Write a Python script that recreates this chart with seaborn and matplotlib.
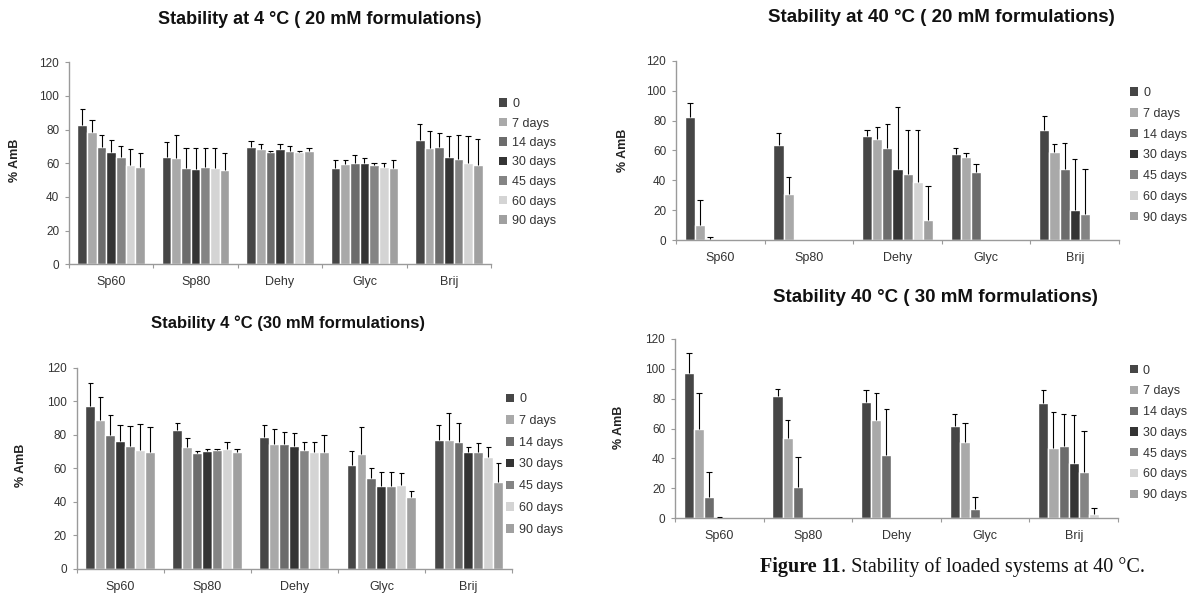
import numpy as np
import pandas as pd
import matplotlib
matplotlib.use("Agg")
import matplotlib.pyplot as plt
from matplotlib.patches import Patch
import seaborn as sns

# formulations and sampling times
forms = ["Sp60", "Sp80", "Dehy", "Glyc", "Brij"]
times = ["0", "7 days", "14 days", "30 days", "45 days", "60 days", "90 days"]
greys = ["#464646", "#a9a9a9", "#6c6c6c", "#343434", "#848484", "#d4d4d4", "#a0a0a0"]

# % AmB, one row per formulation, one column per time
t4_20 = [[83, 78.5, 69.5, 66.5, 63.5, 59, 58],
         [63.5, 63, 57, 56.5, 58, 57, 56],
         [69.5, 68.5, 67, 68.5, 67.5, 66.5, 67.5],
         [57.5, 59.5, 60, 60, 59, 58, 57.5],
         [74, 69, 69.5, 63.5, 62.5, 60, 59]]
t4_20_sd = [[9, 7.5, 7.5, 7.5, 6.5, 9.5, 8],
            [9, 14, 12, 12.5, 11, 12, 10],
            [3.5, 3, 0.5, 3, 2.5, 1, 1.5],
            [4.5, 2.5, 5, 3, 1, 2, 4.5],
            [9.5, 10, 8.5, 13, 14.5, 16, 15.5]]

t4_30 = [[97, 89, 80, 76.5, 73.5, 71, 70],
         [83, 73, 69, 70.5, 71, 71.5, 69.5],
         [79, 74.5, 74.5, 73.5, 71, 70, 70],
         [62, 68.5, 54, 49.5, 49.5, 50, 43],
         [77, 77, 75.5, 70, 70, 66.5, 52]]
t4_30_sd = [[14, 13.5, 12, 9.5, 12, 15.5, 15],
            [4, 5, 1.5, 1, 0.5, 4.5, 2],
            [7, 9, 7.5, 7.5, 5, 5.5, 10],
            [8.5, 16.5, 6, 8.5, 8.5, 7.5, 3.5],
            [9, 16, 11.5, 3, 5, 6.5, 11]]

t40_20 = [[82.5, 10, 1, 0, 0, 0, 0],
          [64, 31, 0, 0, 0, 0, 0],
          [70, 67.5, 62, 47.5, 44.5, 39, 13.5],
          [57.5, 55.5, 45.5, 0, 0, 0, 0],
          [73.5, 59, 47.5, 20, 17.5, 0, 0]]
t40_20_sd = [[9.5, 17, 1.5, 0, 0, 0, 0],
             [8, 11.5, 0, 0, 0, 0, 0],
             [3.5, 8.5, 16, 41.5, 29.5, 34.5, 23],
             [4.5, 3, 5.5, 0, 0, 0, 0],
             [9.5, 5.5, 17.5, 34.5, 30, 0, 0]]

t40_30 = [[97, 60, 14.5, 0.3, 0, 0, 0],
          [82, 53.5, 21, 0, 0, 0, 0],
          [78, 66, 42, 0, 0, 0, 0],
          [61.5, 51, 6, 0, 0, 0, 0],
          [77, 47, 48, 37, 31, 3, 0]]
t40_30_sd = [[13.5, 24, 16.5, 0.7, 0, 0, 0],
             [4.5, 12.5, 20, 0, 0, 0, 0],
             [8, 18, 31, 0, 0, 0, 0],
             [8.5, 13, 8, 0, 0, 0, 0],
             [9, 24, 22, 32, 27, 4, 0]]

sns.set_style("white")
plt.rcParams["font.family"] = ["Liberation Sans", "DejaVu Sans"]

W, H = 1194, 594
fig = plt.figure(figsize=(W / 100, H / 100), dpi=100)


def px_axes(x0, y0, x1, y1):
    return fig.add_axes([x0 / W, 1 - y1 / H, (x1 - x0) / W, (y1 - y0) / H])


def panel(box, vals, sds, title, title_xy, title_size, ylab_xy, leg_xy, leg_space):
    ax = px_axes(*box)
    df = pd.DataFrame([(f, t, vals[i][j]) for i, f in enumerate(forms)
                       for j, t in enumerate(times)], columns=["form", "time", "amb"])
    sns.barplot(data=df, x="form", y="amb", hue="time", order=forms, hue_order=times,
                palette=greys, saturation=1, errorbar=None, width=0.8, legend=False, ax=ax)
    # upper error bars only, taken from the drawn bars
    bars = sorted(ax.patches, key=lambda p: p.get_x())
    for k, p in enumerate(bars):
        e = sds[k // 7][k % 7]
        if e <= 0:
            continue
        xc = p.get_x() + p.get_width() / 2
        top = p.get_height() + e
        cw = p.get_width() * 0.27
        ax.vlines(xc, p.get_height(), top, color="black", lw=0.8, zorder=3)
        ax.hlines(top, xc - cw, xc + cw, color="black", lw=0.8, zorder=3)

    ax.set_ylim(0, 120)
    ax.set_xlim(-0.5, 4.5)
    ax.set_yticks(np.arange(0, 121, 20))
    ax.set_xticks(np.arange(-0.5, 5, 1), minor=True)
    ax.set_xlabel("")
    ax.set_ylabel("")
    sns.despine(ax=ax)
    for s in ["left", "bottom"]:
        ax.spines[s].set_color("#9a9a9a")
        ax.spines[s].set_linewidth(1.0)
    ax.tick_params(axis="y", left=True, length=3, width=0.8, color="#9a9a9a",
                   labelsize=8.5, labelcolor="#333333", pad=4)
    ax.tick_params(axis="x", which="major", bottom=True, length=0,
                   labelsize=9, labelcolor="#333333", pad=8.5)
    ax.tick_params(axis="x", which="minor", bottom=True, length=3, width=0.8, color="#9a9a9a")

    fig.text(title_xy[0] / W, 1 - title_xy[1] / H, title, ha="center", va="center",
             fontsize=title_size, fontweight="bold", color="#111111")
    fig.text(ylab_xy[0] / W, 1 - ylab_xy[1] / H, "% AmB", ha="center", va="center",
             rotation=90, fontsize=9, fontweight="bold", color="#222222")

    handles = [Patch(facecolor=c, edgecolor="none", label=t) for c, t in zip(greys, times)]
    ax.legend(handles=handles, loc="center left",
              bbox_to_anchor=(leg_xy[0] / W, 1 - leg_xy[1] / H),
              bbox_transform=fig.transFigure, frameon=False, fontsize=9,
              handlelength=0.65, handleheight=0.65, handletextpad=0.4,
              labelspacing=leg_space, borderpad=0, borderaxespad=0,
              labelcolor="#333333")
    return ax


panel((69, 62.3, 491, 264.3), t4_20, t4_20_sd,
      "Stability at 4 °C ( 20 mM formulations)", (320, 20), 13,
      (15, 160), (499, 162.5), 0.6)
panel((76.6, 368, 512, 568.7), t4_30, t4_30_sd,
      "Stability 4 °C (30 mM formulations)", (288, 323), 12,
      (21, 465), (506, 464.5), 0.78)
panel((676, 60.7, 1119, 240.3), t40_20, t40_20_sd,
      "Stability at 40 °C ( 20 mM formulations)", (941, 18), 13.5,
      (623, 150), (1130, 155.3), 0.7)
panel((675, 338.7, 1118, 518.3), t40_30, t40_30_sd,
      "Stability 40 °C ( 30 mM formulations)", (935, 298), 13.5,
      (619, 427), (1129.5, 432.9), 0.7)

# caption under the right-hand charts
cap1 = fig.text(760 / W, 1 - 567 / H, "Figure 11", ha="left", va="center",
                fontsize=14.5, fontweight="bold", family="Liberation Serif", color="#111111")
r = fig.canvas.get_renderer()
bb = cap1.get_window_extent(r)
fig.text(bb.x1 / W, 1 - 567 / H, ". Stability of loaded systems at 40 °C.", ha="left",
         va="center", fontsize=14.5, family="Liberation Serif", color="#111111")

fig.savefig("out.png", dpi=100)
